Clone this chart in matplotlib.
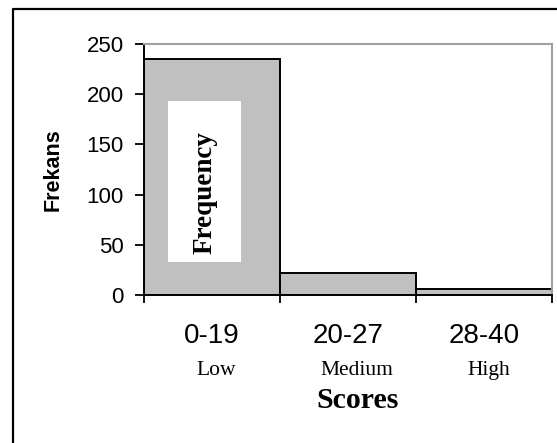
import matplotlib.pyplot as plt
from matplotlib.lines import Line2D
from matplotlib.patches import Rectangle

# data
score_bins = ['0-19', '20-27', '28-40']
levels = ['Low', 'Medium', 'High']
frequency = [235, 22, 6]
y_ticks = [0, 50, 100, 150, 200, 250]

W, H = 557, 443
fig = plt.figure(figsize=(W / 100, H / 100), dpi=100)

# axes box in pixels: left 144, right 552, top 44, bottom 295
ax = fig.add_axes([144 / W, 1 - 295 / H, (552 - 144) / W, (295 - 44) / H])

edges = list(range(len(frequency)))
ax.bar(edges, frequency, width=1, align='edge', color='#c0c0c0',
       edgecolor='black', linewidth=1.4, zorder=2)

ax.set_xlim(0, len(frequency))
ax.set_ylim(0, 250)

ax.set_yticks(y_ticks)
ax.set_yticklabels([str(v) for v in y_ticks], family='Liberation Sans', fontsize=16)
ax.tick_params(axis='y', direction='out', length=6.5, width=1.3, pad=8, color='black')

# tick marks at bin edges, labels at bin centers
ax.set_xticks(range(len(frequency) + 1))
ax.set_xticklabels([])
ax.tick_params(axis='x', which='major', direction='out', length=6, width=1.3)
ax.set_xticks([i + 0.5 for i in range(len(frequency))], minor=True)
ax.set_xticklabels(score_bins, minor=True, family='Liberation Sans', fontsize=20)
ax.tick_params(axis='x', which='minor', length=0, pad=20)

# the word labels sit a little right of the bin centers in the original
level_shift = [0.033, 0.066, 0.033]
for i, lvl in enumerate(levels):
    ax.text(i + 0.5 + level_shift[i], -0.32, lvl, transform=ax.get_xaxis_transform(),
            ha='center', va='baseline', family='Liberation Serif', fontsize=15.5)

ax.text(1.57, -0.452, 'Scores', transform=ax.get_xaxis_transform(),
        ha='center', va='baseline', family='Liberation Serif',
        fontsize=21.5, fontweight='bold')

fig.text(53 / W, 1 - 170 / H, 'Frekans', rotation=90, ha='center', va='center',
         family='Liberation Sans', fontsize=15.5, fontweight='bold')

for side in ['left', 'bottom']:
    ax.spines[side].set_color('black')
    ax.spines[side].set_linewidth(1.4)
for side in ['top', 'right']:
    ax.spines[side].set_color('#a0a0a0')
    ax.spines[side].set_linewidth(1.5)

# white label box inside the first bar
ax.add_patch(Rectangle((0.059, 0.131), 0.179, 0.641, transform=ax.transAxes,
                       facecolor='white', edgecolor='none', zorder=3))
ax.text(0.1485, 0.41, 'Frequency', transform=ax.transAxes, rotation=90,
        ha='center', va='center', family='Liberation Serif',
        fontsize=19.5, fontweight='bold', zorder=4)

# outer frame (top and left only visible)
fig.add_artist(Line2D([13 / W, 13 / W, 1], [0, 1 - 9 / H, 1 - 9 / H],
                      transform=fig.transFigure, color='black', linewidth=1.6))

fig.savefig('out.png', dpi=100)
